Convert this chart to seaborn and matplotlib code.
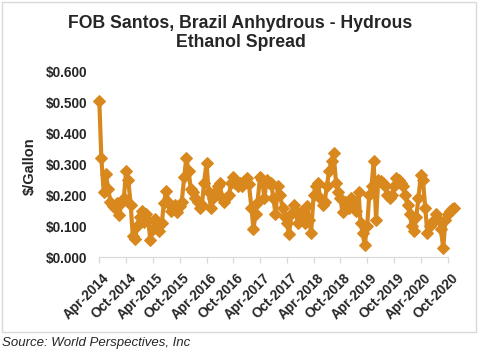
import numpy as np
import pandas as pd
import matplotlib
matplotlib.use("Agg")
import matplotlib.pyplot as plt
import seaborn as sns
import matplotlib.dates as mdates
import matplotlib.transforms as mtransforms
from matplotlib.ticker import FuncFormatter
from matplotlib.patches import Rectangle

# ---------------- data ----------------
title = "FOB Santos, Brazil Anhydrous - Hydrous\nEthanol Spread"
y_label = "$/Gallon"
source_note = "Source: World Perspectives, Inc"
first_date = "2014-04-01"
x_axis_start = "2014-04-01"
x_axis_end = "2020-10-01"

# semi-monthly spread readings, $/gallon
spread = [
    0.505, 0.32, 0.21, 0.27, 0.22, 0.18, 0.165, 0.16, 0.175, 0.135,
    0.18, 0.19, 0.28, 0.25, 0.17, 0.07, 0.06, 0.10, 0.13, 0.15,
    0.115, 0.14, 0.12, 0.055, 0.09, 0.125, 0.11, 0.085, 0.11, 0.175,
    0.215, 0.18, 0.15, 0.16, 0.17, 0.145, 0.165, 0.18, 0.26, 0.32,
    0.28, 0.22, 0.21, 0.19, 0.18, 0.16, 0.17, 0.24, 0.305, 0.21,
    0.16, 0.19, 0.21, 0.23, 0.24, 0.19, 0.18, 0.19, 0.20, 0.24,
    0.26, 0.24, 0.23, 0.24, 0.23, 0.245, 0.255, 0.235, 0.16, 0.09,
    0.14, 0.18, 0.26, 0.25, 0.19, 0.25, 0.24, 0.24, 0.19, 0.14,
    0.23, 0.20, 0.16, 0.13, 0.11, 0.075, 0.14, 0.17, 0.15, 0.11,
    0.13, 0.15, 0.11, 0.165, 0.12, 0.08, 0.20, 0.23, 0.24, 0.19,
    0.17, 0.18, 0.23, 0.28, 0.31, 0.335, 0.24, 0.21, 0.19, 0.145,
    0.18, 0.17, 0.16, 0.19, 0.18, 0.15, 0.21, 0.11, 0.08, 0.04,
    0.10, 0.20, 0.23, 0.31, 0.12, 0.25, 0.245, 0.24, 0.23, 0.20,
    0.19, 0.20, 0.23, 0.255, 0.25, 0.24, 0.23, 0.20, 0.17, 0.14,
    0.10, 0.085, 0.13, 0.19, 0.265, 0.25, 0.16, 0.08, 0.10, 0.11,
    0.12, 0.14, 0.12, 0.09, 0.03, 0.12, 0.14, 0.15, 0.155, 0.16,
]
y_ticks = [0.0, 0.1, 0.2, 0.3, 0.4, 0.5, 0.6]

df = pd.DataFrame({
    "date": pd.date_range(first_date, periods=len(spread), freq="SMS"),
    "spread": spread,
})

# ---------------- style ----------------
sns.set_style("white")
plt.rcParams["font.family"] = ["Liberation Sans", "DejaVu Sans"]
orange = "#D9881E"
grey = "#D9D9D9"

W, H = 481, 351
fig = plt.figure(figsize=(W / 100, H / 100), dpi=100)
ax = fig.add_axes([99.3 / W, 93.7 / H, 348.4 / W, 186 / H])

sns.lineplot(data=df, x="date", y="spread", ax=ax, color=orange,
             linewidth=3.0, marker="D", markersize=6.5,
             markerfacecolor=orange, markeredgecolor=orange,
             clip_on=False, zorder=3)

ax.set_xlim(pd.Timestamp(x_axis_start), pd.Timestamp(x_axis_end))
ax.set_ylim(y_ticks[0], y_ticks[-1])
ax.set_yticks(y_ticks)
ax.yaxis.set_major_formatter(FuncFormatter(lambda v, _: f"${v:.3f}"))
ax.xaxis.set_major_locator(mdates.MonthLocator(bymonth=[4, 10]))
ax.xaxis.set_major_formatter(mdates.DateFormatter("%b-%Y"))

ax.set_xlabel("")
ax.set_ylabel("")
for s in ["left", "top", "right"]:
    ax.spines[s].set_visible(False)
ax.spines["bottom"].set_color(grey)
ax.spines["bottom"].set_linewidth(0.9)
ax.grid(False)

ax.tick_params(axis="y", length=0, pad=9, labelsize=9.8)
ax.tick_params(axis="x", direction="out", length=4, width=0.9,
               color=grey, pad=6, labelsize=9.8, bottom=True)
offset = mtransforms.ScaledTranslation(3 / 100, 0, fig.dpi_scale_trans)
for lab in ax.get_xticklabels():
    lab.set_rotation(45)
    lab.set_ha("right")
    lab.set_va("top")
    lab.set_rotation_mode("anchor")
    lab.set_fontweight("bold")
    lab.set_transform(lab.get_transform() + offset)
for lab in ax.get_yticklabels():
    lab.set_fontweight("bold")

fig.text(240.5 / W, 1 - 33 / H, title, ha="center", va="center",
         fontsize=12.7, fontweight="bold", linespacing=1.15)
fig.text(30 / W, 1 - 166 / H, y_label, rotation=90, ha="center",
         va="center", fontsize=10.5, fontweight="bold")
fig.text(2 / W, 1 - 343 / H, source_note, ha="left", va="center",
         fontsize=9.5, style="italic")

fig.add_artist(Rectangle((2 / W, (H - 331.5) / H), 474.5 / W, 330 / H,
                         transform=fig.transFigure, fill=False,
                         edgecolor=grey, linewidth=1))

fig.savefig("out.png", dpi=100)
